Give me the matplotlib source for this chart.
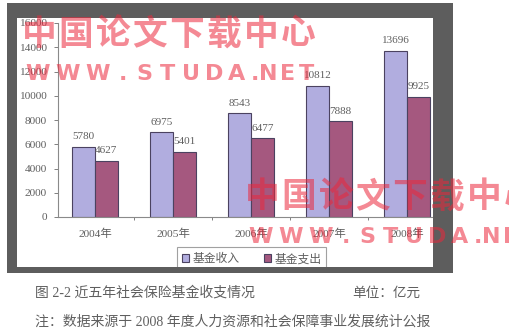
import numpy as np
import matplotlib
matplotlib.use("Agg")
import matplotlib.pyplot as plt
from matplotlib.patches import Rectangle

plt.rcParams['font.family'] = ['Liberation Serif', 'Noto Sans CJK SC']

# Data
years = ['2004年', '2005年', '2006年', '2007年', '2008年']
income = [5780, 6975, 8543, 10812, 13696]
expense = [4627, 5401, 6477, 7888, 9925]
yticks = list(range(0, 16001, 2000))
series_names = ['基金收入', '基金支出']

W, H = 509, 329
fig = plt.figure(figsize=(W / 100, H / 100), dpi=100, facecolor='white')


def rect(x, y, w, h):
    return [x / W, 1 - (y + h) / H, w / W, h / H]


txt_col = '#5f5f5f'
inc_col = '#b1addf'
exp_col = '#a5587f'
edge_col = '#4b4260'

ax = fig.add_axes(rect(58, 23, 375, 194), zorder=1)
x = np.arange(len(years))
bw = 0.29
b1 = ax.bar(x - bw / 2, income, bw, color=inc_col, edgecolor=edge_col,
            linewidth=0.8, label=series_names[0])
b2 = ax.bar(x + bw / 2, expense, bw, color=exp_col, edgecolor=edge_col,
            linewidth=0.8, label=series_names[1])

for bars, vals in ((b1, income), (b2, expense)):
    for bar, v in zip(bars, vals):
        ax.annotate(str(v), (bar.get_x() + bar.get_width() / 2, v),
                    xytext=(0, 4), textcoords='offset points',
                    ha='center', va='bottom', fontsize=8, color=txt_col)

ax.set_xlim(-0.474, 4.333)
ax.set_ylim(0, 16000)
ax.set_yticks(yticks)
ax.set_yticklabels([str(t) for t in yticks])
ax.set_xticks(x)
ax.set_xticklabels(years)
ax.set_xticks(x[:-1] + 0.5, minor=True)
ax.tick_params(axis='y', length=3, width=0.7, color='#808080', pad=5,
               labelsize=8.2, labelcolor=txt_col)
ax.tick_params(axis='x', which='major', length=0, pad=8,
               labelsize=8.2, labelcolor=txt_col)
ax.tick_params(axis='x', which='minor', length=2.5, width=0.7, color='#808080')
for s in ('top', 'right'):
    ax.spines[s].set_visible(False)
for s in ('left', 'bottom'):
    ax.spines[s].set_color('#8a8a8a')
    ax.spines[s].set_linewidth(0.8)

leg = ax.legend(loc='upper left', bbox_to_anchor=(177 / W, 1 - 247 / H),
                bbox_transform=fig.transFigure, ncol=2, frameon=True,
                fancybox=False, fontsize=8.5, handlelength=0.6,
                handleheight=0.6, handletextpad=0.3, columnspacing=2.0,
                borderpad=0.45, borderaxespad=0)
leg.get_frame().set_edgecolor('#8a8a8a')
leg.get_frame().set_linewidth(0.8)
for t in leg.get_texts():
    t.set_color(txt_col)
    t.set_family(['Noto Sans CJK SC'])

# Overlay in pixel coordinates: frame, captions, watermark
ov = fig.add_axes([0, 0, 1, 1], zorder=3)
ov.set_xlim(0, W)
ov.set_ylim(H, 0)
ov.axis('off')
ov.patch.set_visible(False)

frame_col = '#5d5d5d'
for (fx, fy, fw, fh) in [(7, 3, 446, 15), (7, 3, 10, 270),
                         (433, 3, 20, 270), (7, 267, 446, 6)]:
    ov.add_patch(Rectangle((fx, fy), fw, fh, facecolor=frame_col,
                           edgecolor='none'))

ov.text(35, 293, '图 2-2 近五年社会保险基金收支情况', ha='left', va='center',
        fontsize=10, color=txt_col)
ov.text(352, 293, '单位：亿元', ha='left', va='center',
        fontsize=9.8, color=txt_col)
ov.text(35, 322, '注：数据来源于 2008 年度人力资源和社会保障事业发展统计公报',
        ha='left', va='center', fontsize=10, color=txt_col)

wm_col = '#eb283c'
wm_alpha = 0.55
cn_chars = '中国论文下载中心'
url_chars = 'WWW.STUDA.NET'
url_dx = [13, 43, 73, 98, 119, 143, 166, 189, 212, 230, 243, 263, 282]


def watermark(x0, y0):
    for i, ch in enumerate(cn_chars):
        ov.text(x0 + 14 + 37 * i, y0, ch, ha='center', va='center',
                fontsize=25, fontweight='bold', color=wm_col, alpha=wm_alpha,
                family=['Noto Sans CJK SC'], zorder=10, clip_on=True)
    for dx, ch in zip(url_dx, url_chars):
        ov.text(x0 + dx, y0 + 40, ch, ha='center', va='center',
                fontsize=16, fontweight='bold', color=wm_col, alpha=wm_alpha,
                family=['DejaVu Sans'], zorder=10, clip_on=True)


watermark(25, 34)
watermark(248, 197)

fig.savefig('out.png', dpi=100)
